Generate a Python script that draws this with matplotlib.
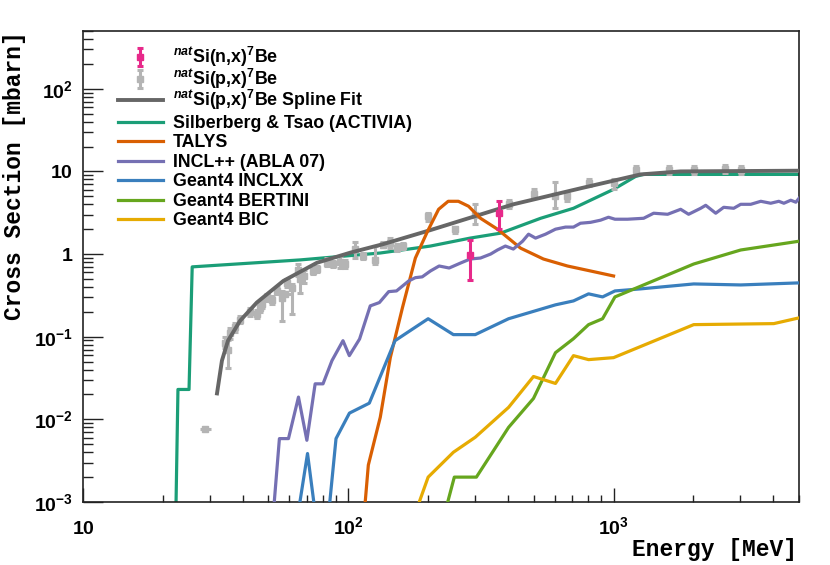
import types
import matplotlib
matplotlib.use('Agg')
import matplotlib.pyplot as plt
from matplotlib.ticker import FixedLocator, FixedFormatter, NullFormatter
from matplotlib.transforms import Bbox

plt.rcParams['mathtext.fontset'] = 'custom'
plt.rcParams['mathtext.rm'] = 'Liberation Sans:bold'
plt.rcParams['mathtext.it'] = 'Liberation Sans:bold:italic'
plt.rcParams['mathtext.bf'] = 'Liberation Sans:bold'
plt.rcParams['mathtext.sf'] = 'Liberation Sans:bold'
plt.rcParams['font.family'] = ['Liberation Sans', 'DejaVu Sans']

# ---------------- data ----------------
# natSi(n,x)7Be measurements
n_E = [288, 371]
n_sig = [0.973, 3.12]
n_lo = [0.486, 2.0]
n_hi = [1.47, 4.35]

# natSi(p,x)7Be measurements
p_E = [34.4, 35.2, 35.9, 37.5, 39.1, 42.7, 45.4, 46.5, 47.3, 49.4, 51.7, 54.0,
       56.4, 58.9, 61.5, 64.8, 65.9, 68.2, 73.8, 76.4, 83.3, 87.8, 93.3, 97.5,
       106.2, 114, 126.5, 135.5, 144, 153, 161, 200, 253, 300, 402, 503, 604,
       665, 805, 1000, 1211, 1614, 2005, 2625, 3015]
p_sig = [0.085, 0.070, 0.110, 0.130, 0.160, 0.200, 0.190, 0.225, 0.250, 0.300, 0.280, 0.360,
         0.295, 0.450, 0.390, 0.650, 0.500, 0.550, 0.620, 0.660, 0.780, 0.760, 0.800, 0.750,
         1.150, 0.950, 0.850, 1.300, 1.350, 1.200, 1.250, 2.870, 2.000, 3.000, 4.000, 5.400, 5.000,
         5.000, 7.300, 7.200, 10.3, 10.3, 10.3, 10.6, 10.3]
p_lo = [0.072, 0.042, 0.095, 0.115, 0.145, 0.180, 0.170, 0.200, 0.225, 0.270, 0.250, 0.330,
        0.156, 0.400, 0.190, 0.550, 0.340, 0.450, 0.580, 0.600, 0.720, 0.700, 0.680, 0.680,
        0.900, 0.880, 0.760, 1.220, 1.200, 1.100, 1.150, 2.500, 1.800, 2.300, 3.600, 5.000, 3.600,
        4.350, 6.600, 6.200, 9.2, 9.2, 9.2, 9.5, 9.2]
p_hi = [0.100, 0.090, 0.128, 0.148, 0.180, 0.225, 0.210, 0.250, 0.275, 0.330, 0.310, 0.400,
        0.358, 0.500, 0.430, 0.760, 0.600, 0.650, 0.680, 0.720, 0.900, 0.820, 0.950, 0.850,
        1.400, 1.020, 1.250, 1.400, 1.560, 1.320, 1.360, 3.120, 2.150, 4.000, 4.500, 6.100, 7.500,
        5.700, 8.200, 8.200, 11.5, 11.5, 11.5, 11.8, 11.5]

# points with horizontal (energy) error bars
ph_E = [28.9, 57.5]
ph_sig = [0.0076, 0.33]
ph_Elo = [27.6, 54.3]
ph_Ehi = [30.3, 61.5]

# natSi(p,x)7Be spline fit
fit_E = [32.0, 33.4, 35.2, 39.1, 45.2, 56.9, 76.2, 101.8, 135.5, 204, 419, 750, 1264, 1790, 5000]
fit_sig = [0.0206, 0.0514, 0.0895, 0.156, 0.259, 0.473, 0.785, 1.04, 1.32, 1.95, 4.0, 6.24, 9.2, 10.0, 10.2]

# Silberberg & Tsao (ACTIVIA)
st_E = [22.4, 22.8, 25.1, 25.8, 66, 132, 204, 288, 375, 531, 706, 1000, 1211, 1298, 5000]
st_sig = [0.0008, 0.023, 0.023, 0.70, 0.85, 1.03, 1.25, 1.56, 1.79, 2.71, 3.58, 6.07, 8.7, 9.2, 9.2]

# TALYS
ta_E = [115.5, 119, 132, 144, 160, 179, 199, 219, 238, 260, 284, 315, 365, 446, 544, 670, 819, 1000]
ta_sig = [0.0009, 0.0028, 0.0106, 0.0558, 0.224, 0.895, 1.89, 3.48, 4.35, 4.35, 3.79, 2.71, 2.0,
          1.18, 0.871, 0.717, 0.624, 0.543]

# INCL++ (ABLA 07)
in_E = [52.3, 55.0, 59.5, 64.9, 69.8, 75.0, 80.3, 86.8, 95.5, 100.9, 110.3, 121, 131, 142, 152,
        169, 179, 190, 204, 220, 240, 265, 288, 315, 344, 365, 391, 419, 454, 478, 508, 554,
        604, 659, 706, 750, 819, 893, 957, 1012, 1129, 1298, 1416, 1599, 1790, 1918, 2130,
        2225, 2427, 2601, 2837, 3014, 3289, 3589, 3911, 4196, 4385, 4656, 4864, 5000]
in_sig = [0.0008, 0.00585, 0.00585, 0.0186, 0.00558, 0.0269, 0.0269, 0.0514, 0.0895, 0.059,
          0.0938, 0.236, 0.259, 0.351, 0.358, 0.473, 0.518, 0.53, 0.624, 0.717, 0.678, 0.779,
          0.871, 0.895, 1.0, 1.12, 1.25, 1.15, 1.43, 1.74, 1.56, 1.74, 2.0, 2.12, 2.12, 2.36,
          2.42, 2.57, 2.79, 2.64, 2.64, 2.71, 3.12, 3.03, 3.48, 3.03, 3.58, 3.89, 3.12, 3.68,
          3.58, 4.0, 4.0, 4.35, 4.12, 4.35, 4.12, 4.48, 4.24, 4.73]

# Geant4 INCLXX
gx_E = [65.0, 70.2, 74.8, 84.6, 89.9, 101, 120, 150, 200, 249, 301, 402, 604, 706, 805, 909,
        1012, 1264, 2005, 3015, 5000]
gx_sig = [0.0008, 0.00386, 0.0008, 0.0008, 0.00585, 0.0119, 0.0157, 0.0895, 0.165, 0.106, 0.106,
          0.165, 0.243, 0.271, 0.330, 0.303, 0.358, 0.379, 0.435, 0.423, 0.448]

# Geant4 BERTINI
gb_E = [235, 251, 304, 402, 499, 604, 706, 805, 909, 1012, 2005, 3015, 5000]
gb_sig = [0.0009, 0.002, 0.002, 0.008, 0.0179, 0.0641, 0.0946, 0.140, 0.165, 0.303, 0.758, 1.12, 1.43]

# Geant4 BIC
gc_E = [183, 200, 249, 301, 402, 499, 604, 706, 805, 1000, 2005, 4018, 5000]
gc_sig = [0.0009, 0.002, 0.004, 0.00607, 0.01396, 0.033, 0.0272, 0.059, 0.0528, 0.0558, 0.140,
          0.144, 0.169]

labels = [r'$^{nat}$Si(n,x)$^{7}$Be',
          r'$^{nat}$Si(p,x)$^{7}$Be',
          r'$^{nat}$Si(p,x)$^{7}$Be Spline Fit',
          'Silberberg & Tsao (ACTIVIA)',
          'TALYS',
          'INCL++ (ABLA 07)',
          'Geant4 INCLXX',
          'Geant4 BERTINI',
          'Geant4 BIC']

x_major = [10, 100, 1000]
x_labels = [r'$10$', r'$10^{2}$', r'$10^{3}$']
y_major = [1e-3, 1e-2, 1e-1, 1, 10, 100]
y_labels = [r'$10^{-3}$', r'$10^{-2}$', r'$10^{-1}$', r'$1$', r'$10$', r'$10^{2}$']

# ---------------- plot ----------------
fig = plt.figure(figsize=(8.3, 5.65), dpi=100)
ax = fig.add_axes([83 / 830, 63 / 565, 716 / 830, 471 / 565])
ax.set_xscale('log')
ax.set_yscale('log')
ax.set_xlim(10, 5000)
ax.set_ylim(1e-3, 500)

lw = 2.3
h_st, = ax.plot(st_E, st_sig, color='#1b9e77', lw=lw, zorder=2)

grey = '#b4b4b4'
h_p = ax.errorbar(p_E, p_sig,
                  yerr=[[s - l for s, l in zip(p_sig, p_lo)], [h - s for s, h in zip(p_sig, p_hi)]],
                  fmt='s', ms=4.5, color=grey, ecolor=grey, elinewidth=2.2, capsize=2.5,
                  capthick=2.2, zorder=3)
ax.errorbar(ph_E, ph_sig,
            xerr=[[e - l for e, l in zip(ph_E, ph_Elo)], [h - e for e, h in zip(ph_E, ph_Ehi)]],
            fmt='s', ms=4.5, color=grey, ecolor=grey, elinewidth=2.2, capsize=0, zorder=3)

h_fit, = ax.plot(fit_E, fit_sig, color='#666666', lw=2.8, zorder=4)
h_ta, = ax.plot(ta_E, ta_sig, color='#d95f02', lw=lw, zorder=5)
h_in, = ax.plot(in_E, in_sig, color='#7570b3', lw=lw, zorder=5)
h_gx, = ax.plot(gx_E, gx_sig, color='#3a7fbd', lw=lw, zorder=5)
h_gb, = ax.plot(gb_E, gb_sig, color='#66a61e', lw=lw, zorder=5)
h_gc, = ax.plot(gc_E, gc_sig, color='#e6ab02', lw=lw, zorder=5)

pink = '#e7298a'
h_n = ax.errorbar(n_E, n_sig,
                  yerr=[[s - l for s, l in zip(n_sig, n_lo)], [h - s for s, h in zip(n_sig, n_hi)]],
                  fmt='s', ms=4.5, color=pink, ecolor=pink, elinewidth=2.2, capsize=2.5,
                  capthick=2.2, zorder=6)

# ticks
ax.xaxis.set_major_locator(FixedLocator(x_major))
ax.xaxis.set_major_formatter(FixedFormatter(x_labels))
ax.xaxis.set_minor_locator(FixedLocator([m * d for d in (10, 100, 1000) for m in range(2, 10)]))
ax.xaxis.set_minor_formatter(NullFormatter())
ax.yaxis.set_major_locator(FixedLocator(y_major))
ax.yaxis.set_major_formatter(FixedFormatter(y_labels))
ax.yaxis.set_minor_locator(FixedLocator([m * d for d in (1e-3, 1e-2, 1e-1, 1, 10, 100) for m in range(2, 10)]))
ax.yaxis.set_minor_formatter(NullFormatter())

ax.tick_params(axis='both', which='both', direction='in', top=False, right=False,
               color='#222222', width=1.0, labelsize=14)
ax.tick_params(axis='x', which='major', length=10, pad=23)
ax.tick_params(axis='x', which='minor', length=5)
ax.tick_params(axis='y', which='major', length=14.5, pad=7)
ax.tick_params(axis='y', which='minor', length=7)
for lab in ax.get_xticklabels():
    lab.set_verticalalignment('baseline')

for sp in ax.spines.values():
    sp.set_linewidth(1.2)
    sp.set_color('#222222')

title_font = dict(family='Liberation Mono', weight='bold', size=16.5)
ax.set_xlabel('Energy [MeV]', loc='right', va='baseline', **title_font)
ax.set_ylabel('Cross Section [mbarn]', loc='top', **title_font)
ax.xaxis.set_label_coords(0.997, -0.114)
ax.yaxis.set_label_coords(-0.079, 1.0)

leg_size = 12.8
handles = [h_n, h_p, h_fit, h_st, h_ta, h_in, h_gx, h_gb, h_gc]
leg = ax.legend(handles, labels, loc='upper left', bbox_to_anchor=(0.049, 0.959),
                frameon=False, borderaxespad=0, borderpad=0, handlelength=2.5,
                handletextpad=0.6, labelspacing=0.13,
                prop=dict(family='Liberation Sans', weight='bold', size=leg_size))

# give every legend row the same height (fixed line spacing, like the original)
row_top = 0.74 * leg_size * fig.dpi / 72.0
try:
    for col in leg._legend_handle_box.get_children():
        for row in col.get_children():
            ta = row.get_children()[1]
            orig = ta.get_bbox

            def fixed_bbox(self, renderer, _orig=orig):
                bb = _orig(renderer)
                return Bbox.from_bounds(bb.x0, bb.y0, bb.width, -bb.y0 + row_top)

            ta.get_bbox = types.MethodType(fixed_bbox, ta)
except Exception:
    pass

fig.savefig('out.png', dpi=100)
